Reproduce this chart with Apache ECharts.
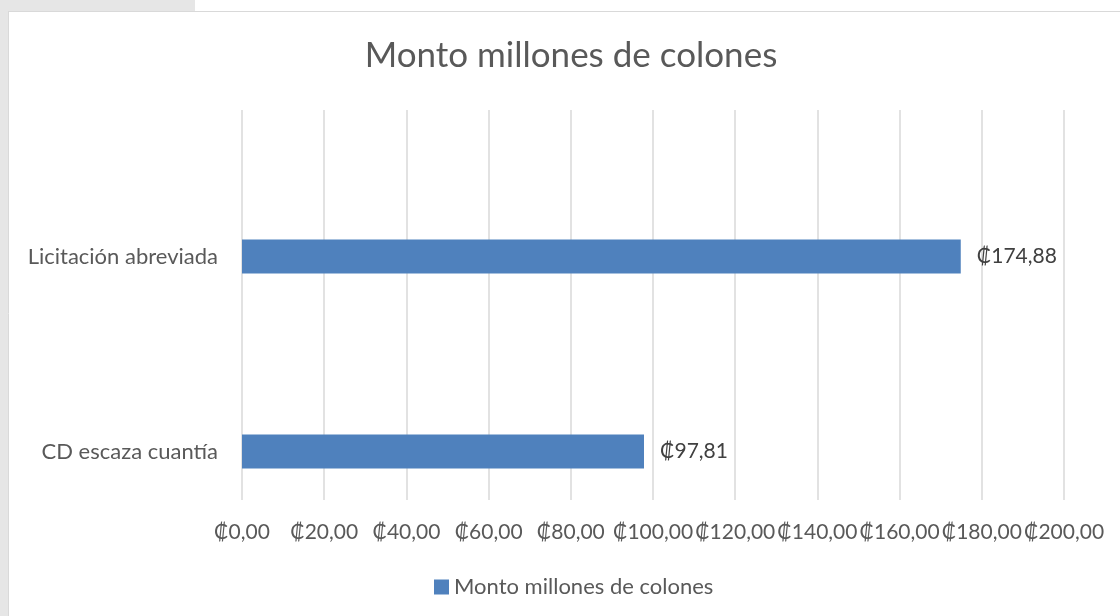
<!DOCTYPE html>
<html>
<head>
<meta charset="utf-8">
<script src="https://cdn.jsdelivr.net/npm/echarts@6/dist/echarts.min.js"></script>
<style>
  html, body { margin: 0; padding: 0; background: #fff; }
  #container { width: 1120px; height: 616px; }
</style>
</head>
<body>
<div id="container"></div>
<script>
let categories = ['CD escaza cuantía', 'Licitación abreviada'];
let montos = [97.81, 174.88];
let seriesName = 'Monto millones de colones';
let xMin = 0, xMax = 200, xStep = 20;

let fmt = (v) => '₡' + v.toFixed(2).replace('.', ',');

let font = 'Lato, "Noto Sans", sans-serif';
let gray = '#595959';

let dom = document.getElementById('container');
let chart = echarts.init(dom);

chart.setOption({
    animation: false,
    textStyle: { fontFamily: font },
    title: {
        text: seriesName,
        left: 566,
        textAlign: 'center',
        top: 33,
        textStyle: { fontSize: 35, fontWeight: 'normal', color: gray, fontFamily: font }
    },
    legend: {
        data: [seriesName],
        left: 429,
        top: 571,
        itemWidth: 15,
        itemHeight: 15,
        icon: 'rect',
        textStyle: { fontSize: 22, color: gray, fontFamily: font }
    },
    graphic: [
        { type: 'rect', shape: { x: 0, y: 0, width: 195, height: 11 }, style: { fill: '#e6e6e6' }, silent: true },
        { type: 'rect', shape: { x: 0, y: 0, width: 8, height: 616 }, style: { fill: '#e6e6e6' }, silent: true },
        { type: 'line', shape: { x1: 8.5, y1: 11, x2: 8.5, y2: 616 }, style: { stroke: '#d9d9d9', lineWidth: 1 }, silent: true },
        { type: 'line', shape: { x1: 8, y1: 11.5, x2: 1120, y2: 11.5 }, style: { stroke: '#d9d9d9', lineWidth: 1 }, silent: true }
    ],
    grid: [
        // gridlines + value labels
        { left: 242, right: 56, top: 110, height: 390 },
        // bars + category labels
        { left: 242, right: 56, top: 159, height: 390 }
    ],
    xAxis: [{
        gridIndex: 0,
        type: 'value',
        min: xMin, max: xMax, interval: xStep,
        axisLine: { show: false },
        axisTick: { show: false },
        splitLine: { show: true, lineStyle: { color: '#d9d9d9', width: 1.5 } },
        axisLabel: { fontSize: 21, color: gray, margin: 22, formatter: fmt, fontFamily: font }
    }, {
        gridIndex: 1,
        type: 'value',
        min: xMin, max: xMax,
        show: false
    }],
    yAxis: [{
        gridIndex: 0,
        type: 'category',
        data: categories,
        show: false
    }, {
        gridIndex: 1,
        type: 'category',
        data: categories,
        axisLine: { show: false },
        axisTick: { show: false },
        axisLabel: { fontSize: 22, color: gray, margin: 24, fontFamily: font }
    }],
    series: [{
        name: seriesName,
        type: 'bar',
        xAxisIndex: 1,
        yAxisIndex: 1,
        data: montos,
        barWidth: 34,
        itemStyle: { color: '#4f81bd' },
        label: {
            show: true,
            position: 'right',
            distance: 16,
            formatter: (p) => fmt(p.value),
            fontSize: 21,
            color: '#404040',
            fontFamily: font
        }
    }]
});
</script>
</body>
</html>
